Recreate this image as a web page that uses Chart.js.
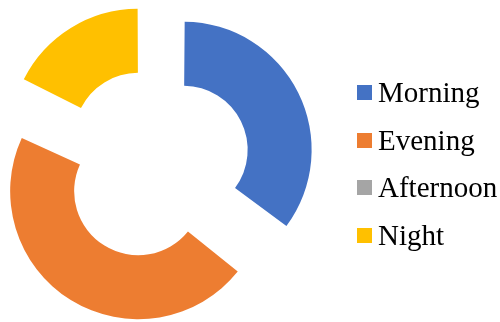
<!DOCTYPE html>
<html>
<head>
<meta charset="utf-8">
<script src="https://cdn.jsdelivr.net/npm/chart.js@4.4.0/dist/chart.umd.min.js"></script>
<style>
  html, body { margin: 0; padding: 0; background: #fff; }
  #wrap { position: relative; width: 500px; height: 322px; }
  #chartBox { position: absolute; left: 0; top: 0; width: 500px; height: 322px; }
  #legend { position: absolute; left: 357px; top: 68.5px; }
  .item { display: flex; align-items: center; height: 47.8px; font-family: "Liberation Serif", "Times New Roman", serif; font-size: 29px; color: #000; white-space: nowrap; }
  .box { width: 15px; height: 15px; margin-right: 6px; flex: none; }
</style>
</head>
<body>
<div id="wrap">
  <div id="chartBox"><canvas id="myChart"></canvas></div>
  <div id="legend"></div>
</div>
<script>
const labels = ['Morning', 'Evening', 'Afternoon', 'Night'];
const values = [6, 8, 0, 3];
const colors = ['#4472C4', '#ED7D31', '#A5A5A5', '#FFC000'];

// legend on the right
const legend = document.getElementById('legend');
labels.forEach((name, i) => {
  const row = document.createElement('div');
  row.className = 'item';
  row.innerHTML = `<span class="box" style="background:${colors[i]}"></span><span>${name}</span>`;
  legend.appendChild(row);
});

// chart.js grows the radius of exploded arcs; undo that so every slice keeps the same ring size
const keepRadius = {
  id: 'keepRadius',
  afterDatasetsUpdate(chart) {
    chart.getDatasetMeta(0).data.forEach((arc) => {
      const off = (arc.options.offset || 0) / 4;
      const fix = 1 - Math.sin(Math.min(Math.PI, arc.circumference || 0));
      arc.outerRadius -= off * fix;
      arc.innerRadius -= off * fix;
    });
  }
};

const ctx = document.getElementById('myChart').getContext('2d');
const myChart = new Chart(ctx, {
  type: 'doughnut',
  data: {
    labels: labels,
    datasets: [{
      data: values,
      backgroundColor: colors,
      borderWidth: 0,
      offset: 128
    }]
  },
  options: {
    responsive: true,
    maintainAspectRatio: false,
    animation: false,
    radius: 128,
    cutout: '50%',
    layout: { padding: { top: 6, right: 190 } },
    plugins: {
      legend: { display: false },
      tooltip: { enabled: false }
    }
  },
  plugins: [keepRadius]
});
</script>
</body>
</html>
